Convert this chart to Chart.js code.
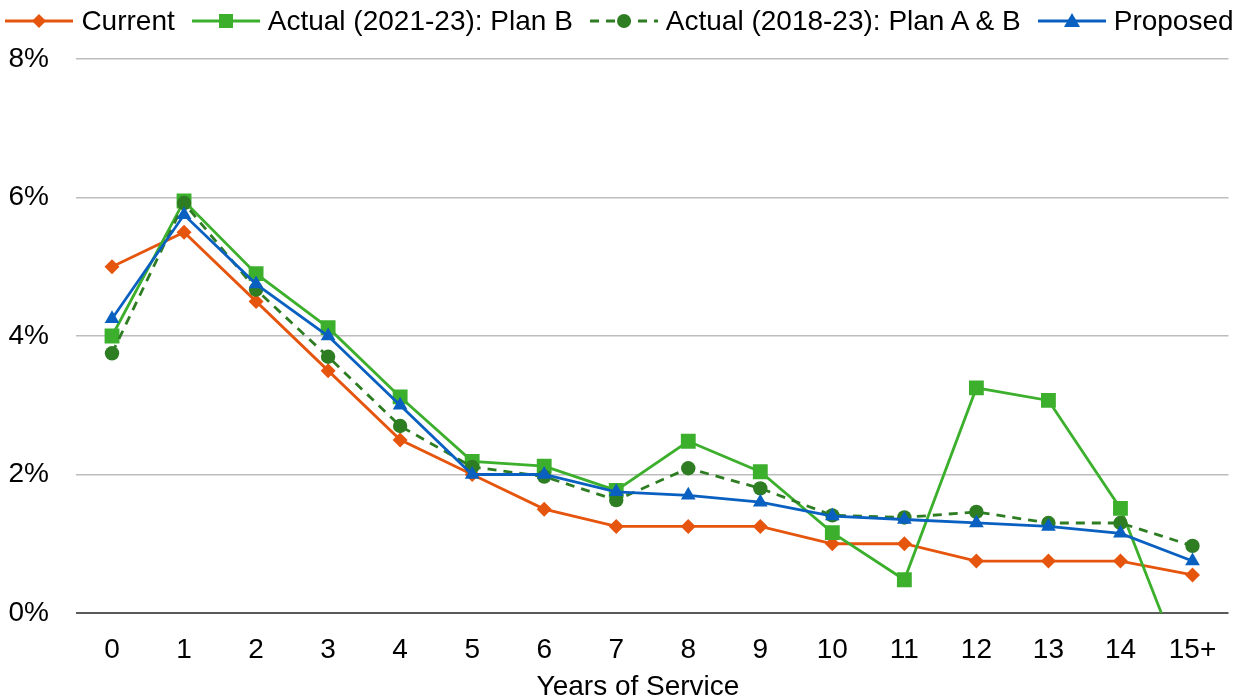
<!DOCTYPE html>
<html>
<head>
<meta charset="utf-8">
<script src="https://cdn.jsdelivr.net/npm/chart.js@4.4.1/dist/chart.umd.min.js"></script>
<style>
  html, body { margin: 0; padding: 0; background: #fff; overflow: hidden; }
  #wrap { position: relative; width: 1239px; height: 698px; overflow: hidden; }
  #chart { position: absolute; left: 0; top: 0; }
  #legend {
    position: absolute; left: 0; top: 3px; width: 1239px; height: 36px;
    display: flex; justify-content: center; align-items: center;
    font-family: "Liberation Sans", Arial, sans-serif; font-size: 28px; color: #000;
    white-space: nowrap;
  }
  .item { display: flex; align-items: center; margin-right: 17px; }
  .item:last-child { margin-right: 0; }
  .item svg { margin-right: 8px; }
  #xtitle {
    position: absolute; left: 438px; width: 400px; top: 672px; text-align: center;
    font-family: "Liberation Sans", Arial, sans-serif; font-size: 28px; line-height: 28px; color: #000;
  }
</style>
</head>
<body>
<div id="wrap">
  <canvas id="chart" width="1239" height="698"></canvas>
  <div id="legend"></div>
  <div id="xtitle">Years of Service</div>
</div>
<script>
// Years-of-service categories
const categories = ['0','1','2','3','4','5','6','7','8','9','10','11','12','13','14','15+'];

// Termination rates (%) by years of service
const currentRates  = [5.0, 5.5, 4.5, 3.5, 2.5, 2.0, 1.5, 1.25, 1.25, 1.25, 1.0, 1.0, 0.75, 0.75, 0.75, 0.55];
const actualPlanB   = [4.0, 5.95, 4.9, 4.12, 3.12, 2.19, 2.12, 1.77, 2.48, 2.04, 1.16, 0.48, 3.25, 3.07, 1.51, -1.15];
const actualPlanAB  = [3.75, 5.92, 4.67, 3.7, 2.7, 2.11, 1.97, 1.63, 2.09, 1.8, 1.41, 1.38, 1.46, 1.3, 1.3, 0.97];
const proposedRates = [4.25, 5.75, 4.75, 4.0, 3.0, 2.0, 2.0, 1.75, 1.7, 1.6, 1.4, 1.35, 1.3, 1.25, 1.15, 0.75];

// Y axis tick values
const yTicks = [0, 2, 4, 6, 8];

const FONT = '"Liberation Sans", Arial, sans-serif';
const ORANGE = '#E6550D';
const LIGHT_GREEN = '#3CAF2C';
const DARK_GREEN = '#2E7D23';
const BLUE = '#0A60C0';

const series = [
  { label: 'Current', data: currentRates, color: ORANGE, style: 'rectRot', radius: 7.5, dash: [], order: 4 },
  { label: 'Actual (2021-23): Plan B', data: actualPlanB, color: LIGHT_GREEN, style: 'rect', radius: 10.5, dash: [], order: 3 },
  { label: 'Actual (2018-23): Plan A & B', data: actualPlanAB, color: DARK_GREEN, style: 'circle', radius: 7.2, dash: [9, 7], order: 2 },
  { label: 'Proposed', data: proposedRates, color: BLUE, style: 'triangle', radius: 8.5, dash: [], order: 1 }
];

new Chart(document.getElementById('chart'), {
  type: 'line',
  data: {
    labels: categories,
    datasets: series.map(s => ({
      label: s.label,
      data: s.data,
      borderColor: s.color,
      backgroundColor: s.color,
      borderWidth: 2.8,
      borderDash: s.dash,
      pointStyle: s.style,
      pointRadius: s.radius,
      pointHoverRadius: s.radius,
      pointBorderWidth: 0,
      pointBackgroundColor: s.color,
      pointBorderColor: s.color,
      tension: 0,
      order: s.order
    }))
  },
  options: {
    responsive: false,
    animation: false,
    events: [],
    layout: { padding: { top: 59, left: 9, right: 6, bottom: 0 } },
    plugins: {
      legend: { display: false },
      tooltip: { enabled: false }
    },
    scales: {
      x: {
        offset: true,
        afterFit: axis => { axis.height = 85; },
        grid: { display: false, drawTicks: false },
        border: { display: false },
        ticks: {
          color: '#000', padding: 20, maxRotation: 0,
          font: { family: FONT, size: 28 }
        }
      },
      y: {
        min: 0, max: 8,
        afterBuildTicks: axis => { axis.ticks = yTicks.map(v => ({ value: v })); },
        afterFit: axis => { axis.width = 67; },
        grid: {
          drawTicks: false,
          color: ctx => ctx.tick && ctx.tick.value === 0 ? '#5A5A5A' : '#BDBDBD',
          lineWidth: ctx => ctx.tick && ctx.tick.value === 0 ? 2 : 1.5
        },
        border: { display: false },
        ticks: {
          color: '#000', padding: 27,
          font: { family: FONT, size: 28 },
          callback: v => v + '%'
        }
      }
    }
  }
});

// Legend: line with centred marker, then the series name
function markerSvg(s) {
  const w = 68, h = 24, cx = w / 2, cy = h / 2;
  let m = '';
  if (s.style === 'rectRot') m = `<polygon points="${cx},${cy-7} ${cx+7},${cy} ${cx},${cy+7} ${cx-7},${cy}" fill="${s.color}"/>`;
  else if (s.style === 'rect') m = `<rect x="${cx-7}" y="${cy-7}" width="14" height="14" fill="${s.color}"/>`;
  else if (s.style === 'circle') m = `<circle cx="${cx}" cy="${cy}" r="7" fill="${s.color}"/>`;
  else m = `<polygon points="${cx},${cy-8} ${cx+8},${cy+6} ${cx-8},${cy+6}" fill="${s.color}"/>`;
  const dash = s.dash.length ? `stroke-dasharray="9 7"` : '';
  return `<svg width="${w}" height="${h}"><line x1="0" y1="${cy}" x2="${w}" y2="${cy}" stroke="${s.color}" stroke-width="2.8" ${dash}/>${m}</svg>`;
}
document.getElementById('legend').innerHTML = series.map(s =>
  `<div class="item">${markerSvg(s)}<span>${s.label}</span></div>`).join('');
</script>
</body>
</html>
